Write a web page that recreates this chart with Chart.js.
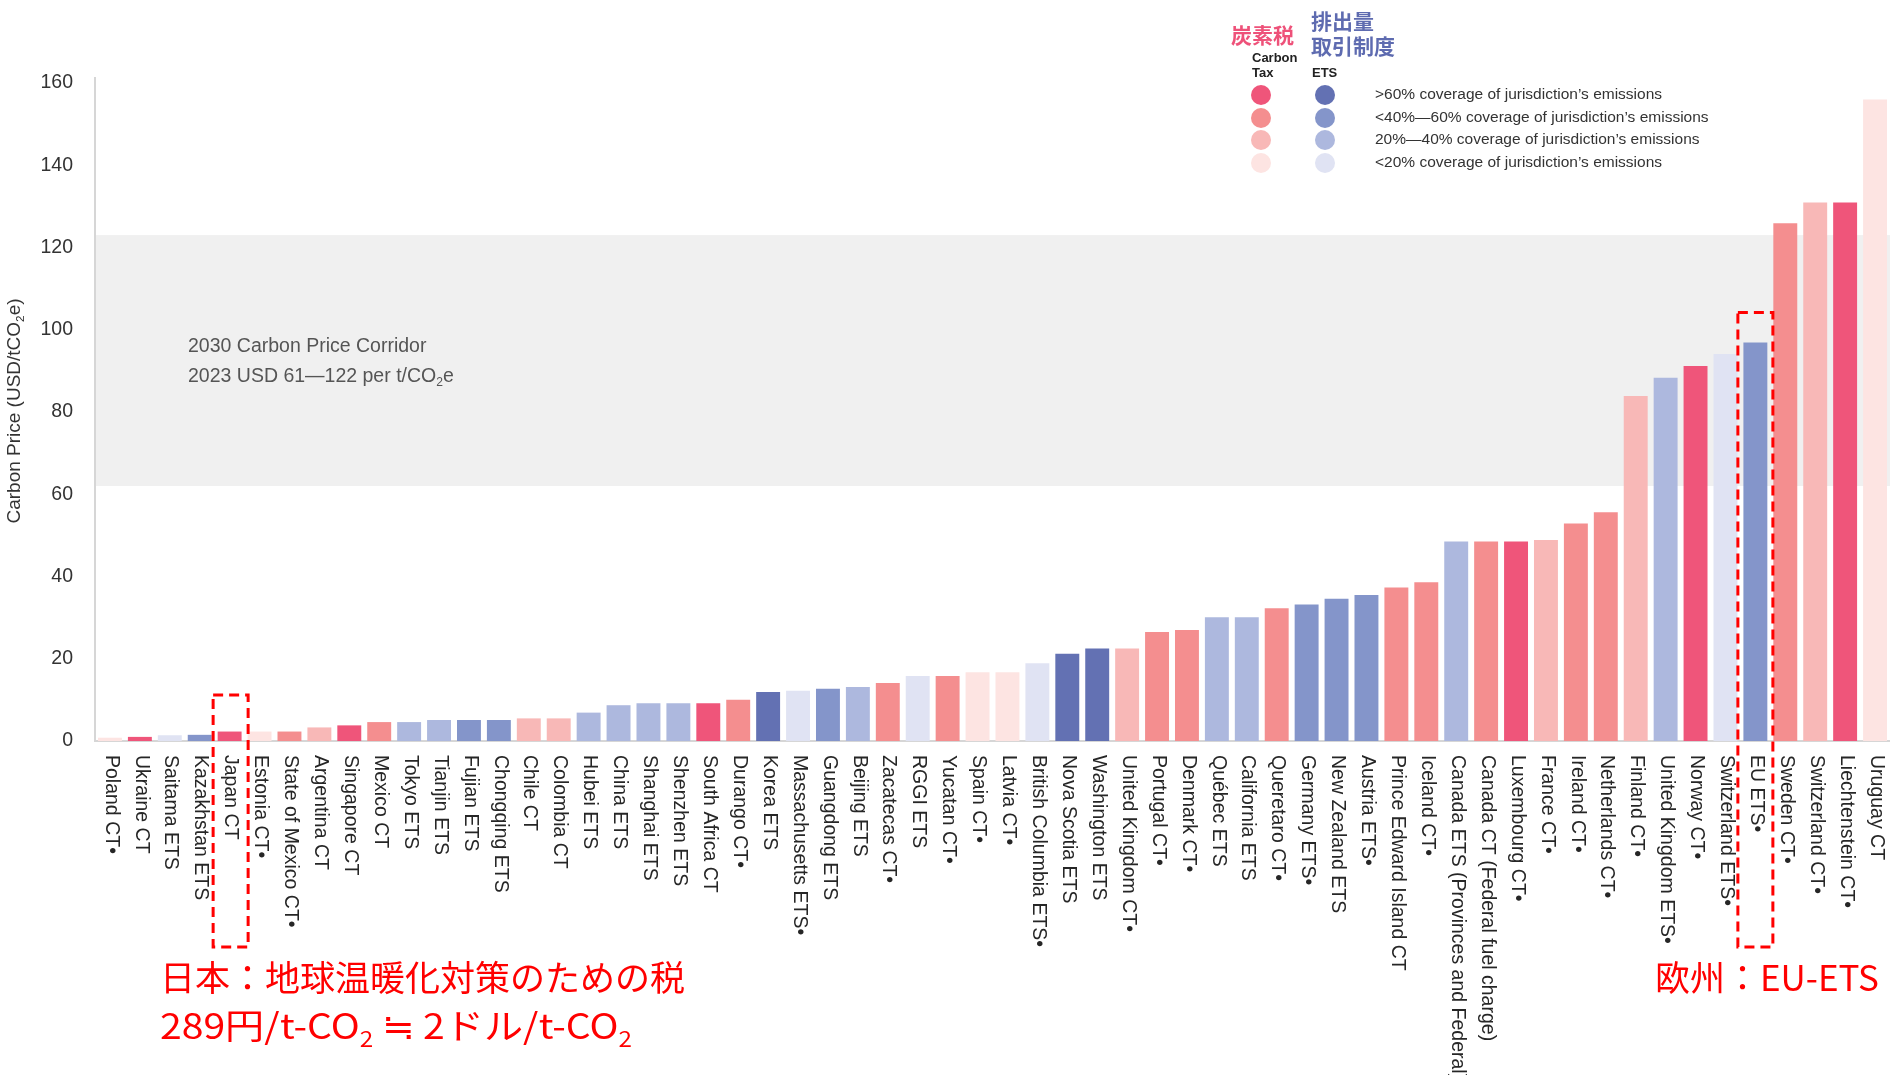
<!DOCTYPE html>
<html>
<head>
<meta charset="utf-8">
<script src="https://cdn.jsdelivr.net/npm/chart.js@4.4.0/dist/chart.umd.min.js"></script>
<style>
  html, body { margin: 0; padding: 0; background: #ffffff; }
  canvas { display: block; }
</style>
</head>
<body>
<canvas id="chart" width="1890" height="1075"></canvas>
<script>
// ---------------- DATA ----------------
const categories = [
  'Poland CT\u2022', 'Ukraine CT', 'Saitama ETS', 'Kazakhstan ETS', 'Japan CT',
  'Estonia CT\u2022', 'State of Mexico CT\u2022', 'Argentina CT', 'Singapore CT', 'Mexico CT',
  'Tokyo ETS', 'Tianjin ETS', 'Fujian ETS', 'Chongqing ETS', 'Chile CT',
  'Colombia CT', 'Hubei ETS', 'China ETS', 'Shanghai ETS', 'Shenzhen ETS',
  'South Africa CT', 'Durango CT\u2022', 'Korea ETS', 'Massachusetts ETS\u2022', 'Guangdong ETS',
  'Beijing ETS', 'Zacatecas CT\u2022', 'RGGI ETS', 'Yucatan CT\u2022', 'Spain CT\u2022',
  'Latvia CT\u2022', 'British Columbia ETS\u2022', 'Nova Scotia ETS', 'Washington ETS', 'United Kingdom CT\u2022',
  'Portugal CT\u2022', 'Denmark CT\u2022', 'Qu\u00e9bec ETS', 'California ETS', 'Queretaro CT\u2022',
  'Germany ETS\u2022', 'New Zealand ETS', 'Austria ETS\u2022', 'Prince Edward Island CT', 'Iceland CT\u2022',
  'Canada ETS (Provinces and Federal)', 'Canada CT (Federal fuel charge)', 'Luxembourg CT\u2022', 'France CT\u2022', 'Ireland CT\u2022',
  'Netherlands CT\u2022', 'Finland CT\u2022', 'United Kingdom ETS\u2022', 'Norway CT\u2022', 'Switzerland ETS\u2022',
  'EU ETS\u2022', 'Sweden CT\u2022', 'Switzerland CT\u2022', 'Liechtenstein CT\u2022', 'Uruguay CT'
];

// Carbon price, USD per tCO2e
const prices = [
  0.8, 1.0, 1.4, 1.5, 2.3,
  2.3, 2.3, 3.3, 3.8, 4.6,
  4.6, 5.1, 5.1, 5.1, 5.5,
  5.5, 6.9, 8.7, 9.2, 9.2,
  9.2, 10.0, 11.9, 12.2, 12.7,
  13.1, 14.1, 15.8, 15.8, 16.7,
  16.7, 18.9, 21.2, 22.5, 22.5,
  26.5, 27.0, 30.1, 30.1, 32.3,
  33.2, 34.6, 35.5, 37.3, 38.6,
  48.5, 48.5, 48.5, 48.9, 52.9,
  55.6, 83.9, 88.3, 91.2, 94.1,
  96.9, 125.9, 130.9, 130.9, 156.0
];

// Instrument type of each bar
const instruments = [
  'CT', 'CT', 'ETS', 'ETS', 'CT',
  'CT', 'CT', 'CT', 'CT', 'CT',
  'ETS', 'ETS', 'ETS', 'ETS', 'CT',
  'CT', 'ETS', 'ETS', 'ETS', 'ETS',
  'CT', 'CT', 'ETS', 'ETS', 'ETS',
  'ETS', 'CT', 'ETS', 'CT', 'CT',
  'CT', 'ETS', 'ETS', 'ETS', 'CT',
  'CT', 'CT', 'ETS', 'ETS', 'CT',
  'ETS', 'ETS', 'ETS', 'CT', 'CT',
  'ETS', 'CT', 'CT', 'CT', 'CT',
  'CT', 'CT', 'ETS', 'CT', 'ETS',
  'ETS', 'CT', 'CT', 'CT', 'CT'
];

// Coverage band of each bar: 0 = >60%, 1 = 40-60%, 2 = 20-40%, 3 = <20%
const coverageBands = [
  3, 0, 3, 1, 0,
  3, 1, 2, 0, 1,
  2, 2, 1, 1, 2,
  2, 2, 2, 2, 2,
  0, 1, 0, 3, 1,
  2, 1, 3, 1, 3,
  3, 3, 0, 0, 2,
  1, 1, 2, 2, 1,
  1, 1, 1, 1, 1,
  2, 1, 0, 2, 1,
  1, 2, 2, 0, 3,
  1, 1, 2, 0, 3
];

const yTickValues = [0, 20, 40, 60, 80, 100, 120, 140, 160];
const corridorRange = [62, 123];   // grey band as drawn in the picture

const legendLabels = [
  '>60% coverage of jurisdiction\u2019s emissions',
  '<40%\u201460% coverage of jurisdiction\u2019s emissions',
  '20%\u201440% coverage of jurisdiction\u2019s emissions',
  '<20% coverage of jurisdiction\u2019s emissions'
];

// ---------------- STYLE ----------------
const palette = {
  CT:  ['#EF557A', '#F48E8F', '#F8B8B7', '#FDE4E2'],
  ETS: ['#6371B3', '#8495CA', '#ADB8DE', '#E0E3F3']
};
const LATIN = "'Liberation Sans', Arial, sans-serif";
const CJK = "'Noto Sans CJK JP', 'Noto Sans CJK SC', sans-serif";
const barColors = prices.map((_, i) => palette[instruments[i]][coverageBands[i]]);

function drawRich(ctx, parts, x, baseline, size, family, weight) {
  let cx = x;
  for (const p of parts) {
    const s = p.sub ? size * 0.62 : size;
    ctx.font = (weight || 'normal') + ' ' + s + 'px ' + family;
    ctx.fillText(p.t, cx, p.sub ? baseline + size * 0.22 : baseline);
    cx += ctx.measureText(p.t).width;
  }
  return cx - x;
}
function richWidth(ctx, parts, size, family, weight) {
  let w = 0;
  for (const p of parts) {
    const s = p.sub ? size * 0.62 : size;
    ctx.font = (weight || 'normal') + ' ' + s + 'px ' + family;
    w += ctx.measureText(p.t).width;
  }
  return w;
}

// Grey corridor band + its label
const corridorPlugin = {
  id: 'corridor',
  beforeDatasetsDraw(chart) {
    const { ctx, chartArea } = chart;
    const y = chart.scales.y;
    const top = y.getPixelForValue(corridorRange[1]);
    const bot = y.getPixelForValue(corridorRange[0]);
    ctx.save();
    ctx.fillStyle = '#F0F0F0';
    ctx.fillRect(chartArea.left + 1, top, chartArea.right - chartArea.left - 1, bot - top);
    ctx.fillStyle = '#555555';
    ctx.textAlign = 'left';
    ctx.textBaseline = 'alphabetic';
    drawRich(ctx, [{ t: '2030 Carbon Price Corridor' }], 188, 352, 19.5, LATIN);
    drawRich(ctx, [{ t: '2023 USD 61\u2014122 per t/CO' }, { t: '2', sub: true }, { t: 'e' }], 188, 382, 19.5, LATIN);
    ctx.restore();
  }
};

// Rotated category labels (reading top to bottom), y-axis title, legend, annotations
const decorPlugin = {
  id: 'decor',
  afterDraw(chart) {
    const { ctx, chartArea } = chart;
    const xs = chart.scales.x;
    const ys = chart.scales.y;
    ctx.save();

    // category labels
    ctx.fillStyle = '#262626';
    ctx.font = '19.5px ' + LATIN;
    ctx.textAlign = 'left';
    ctx.textBaseline = 'middle';
    categories.forEach((lab, i) => {
      const x = xs.getPixelForValue(i) + 1;
      ctx.save();
      ctx.translate(x, chartArea.bottom + 14);
      ctx.rotate(Math.PI / 2);
      ctx.fillText(lab, 0, 0);
      ctx.restore();
    });

    // y-axis title
    ctx.save();
    ctx.fillStyle = '#333333';
    ctx.textAlign = 'left';
    ctx.textBaseline = 'alphabetic';
    ctx.translate(13, 411);
    ctx.rotate(-Math.PI / 2);
    const tParts = [{ t: 'Carbon Price (USD/tCO' }, { t: '2', sub: true }, { t: 'e)' }];
    const tw = richWidth(ctx, tParts, 19, LATIN);
    drawRich(ctx, tParts, -tw / 2, 7, 19, LATIN);
    ctx.restore();

    // legend headings
    ctx.textAlign = 'left';
    ctx.textBaseline = 'middle';
    ctx.fillStyle = '#EE5179';
    ctx.font = 'bold 21px ' + CJK;
    ctx.fillText('\u70ad\u7d20\u7a0e', 1231, 35);
    ctx.fillStyle = '#5E6BB0';
    ctx.fillText('\u6392\u51fa\u91cf', 1311, 21);
    ctx.fillText('\u53d6\u5f15\u5236\u5ea6', 1311, 46);
    ctx.fillStyle = '#222222';
    ctx.font = 'bold 13px ' + LATIN;
    ctx.fillText('Carbon', 1252, 58);
    ctx.fillText('Tax', 1252, 73);
    ctx.fillText('ETS', 1312, 73);

    // legend rows
    const rowY = [95, 118, 140, 163];
    legendLabels.forEach((txt, k) => {
      ctx.fillStyle = palette.CT[k];
      ctx.beginPath(); ctx.arc(1261, rowY[k], 10, 0, Math.PI * 2); ctx.fill();
      ctx.fillStyle = palette.ETS[k];
      ctx.beginPath(); ctx.arc(1325, rowY[k], 10, 0, Math.PI * 2); ctx.fill();
      ctx.fillStyle = '#333333';
      ctx.font = '15.5px ' + LATIN;
      ctx.fillText(txt, 1375, rowY[k]);
    });

    // dashed highlight boxes
    ctx.strokeStyle = '#FF0000';
    ctx.lineWidth = 3;
    ctx.setLineDash([10, 6]);
    const boxes = [{ idx: 4, topVal: 11.2, dx: 1 }, { idx: 55, topVal: 104.2, dx: 0 }];
    boxes.forEach(b => {
      const cx = xs.getPixelForValue(b.idx) + b.dx;
      const top = ys.getPixelForValue(b.topVal);
      const bottom = chartArea.bottom + 206;
      ctx.strokeRect(cx - 17.5, top, 35, bottom - top);
    });
    ctx.setLineDash([]);

    // red annotation texts
    ctx.fillStyle = '#FF0000';
    ctx.textAlign = 'left';
    ctx.textBaseline = 'alphabetic';
    ctx.font = '35px ' + CJK;
    ctx.fillText('\u65e5\u672c\uff1a\u5730\u7403\u6e29\u6696\u5316\u5bfe\u7b56\u306e\u305f\u3081\u306e\u7a0e', 160, 991);
    const l2 = [{ t: '289\u5186/t-CO' }, { t: '2', sub: true }, { t: ' \u2252 2\u30c9\u30eb/t-CO' }, { t: '2', sub: true }];
    const w2 = richWidth(ctx, l2, 35, CJK);
    ctx.save();
    ctx.translate(160, 1039);
    ctx.scale(472 / w2, 1);
    drawRich(ctx, l2, 0, 0, 35, CJK);
    ctx.restore();
    ctx.fillStyle = '#FF0000';
    ctx.font = '35px ' + CJK;
    ctx.fillText('\u6b27\u5dde\uff1aEU-ETS', 1655, 991);

    ctx.restore();
  }
};

new Chart(document.getElementById('chart'), {
  type: 'bar',
  data: {
    labels: categories,
    datasets: [{
      data: prices,
      backgroundColor: barColors,
      borderWidth: 0,
      barPercentage: 0.8,
      categoryPercentage: 1.0
    }]
  },
  options: {
    responsive: false,
    animation: false,
    layout: { padding: { top: 78, left: 0, right: 0, bottom: 0 } },
    plugins: { legend: { display: false }, tooltip: { enabled: false } },
    scales: {
      x: {
        grid: { display: false, drawTicks: false },
        border: { display: true, color: '#D6D6D6', width: 2 },
        ticks: { display: false },
        afterFit(scale) { scale.height = 334; }
      },
      y: {
        min: 0,
        max: 161.2,
        grid: { display: false, drawTicks: false },
        border: { display: true, color: '#D6D6D6', width: 2 },
        ticks: {
          padding: 22,
          color: '#333333',
          font: { family: LATIN, size: 19.5 }
        },
        afterBuildTicks(scale) { scale.ticks = yTickValues.map(v => ({ value: v })); },
        afterFit(scale) { scale.width = 95; }
      }
    }
  },
  plugins: [corridorPlugin, decorPlugin]
});
</script>
</body>
</html>
